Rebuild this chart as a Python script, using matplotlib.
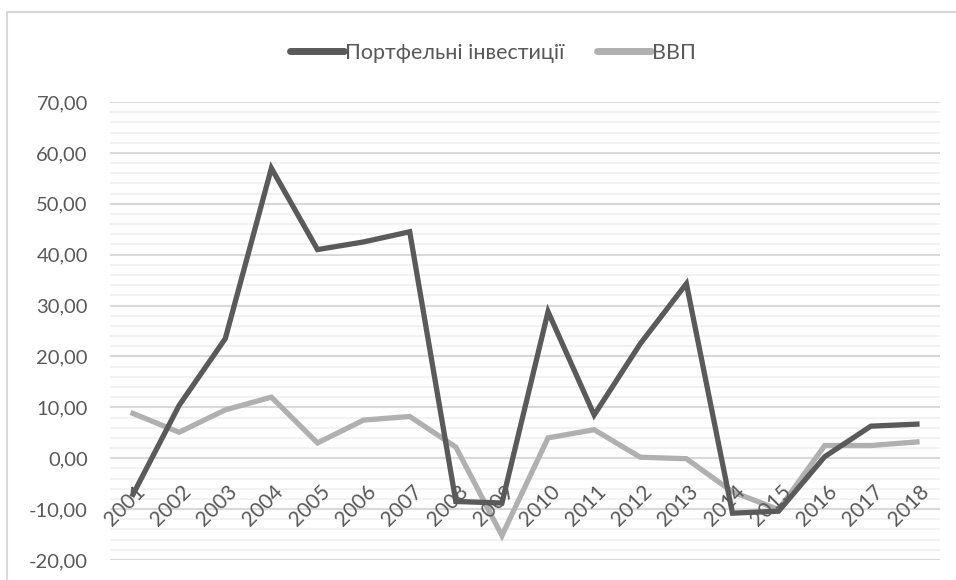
import matplotlib.pyplot as plt
from matplotlib.patches import Rectangle
from matplotlib.ticker import MultipleLocator, FuncFormatter

years = [str(y) for y in range(2001, 2019)]
portfolio = [-7.1, 10.4, 23.5, 57.0, 41.0, 42.5, 44.5, -8.5, -8.8, 28.8,
             8.5, 22.5, 34.3, -10.8, -10.4, 0.3, 6.3, 6.7]
gdp = [8.8, 5.1, 9.5, 12.0, 3.0, 7.5, 8.2, 2.2, -15.2, 4.0,
       5.6, 0.2, -0.1, -6.6, -10.1, 2.5, 2.5, 3.2]

DARK = '#5a5a5a'
LIGHT = '#b0b0b0'
TXT = '#595959'
plt.rcParams['font.family'] = ['Lato', 'DejaVu Sans']

fig = plt.figure(figsize=(9.56, 5.8), dpi=100)
fig.patches.append(Rectangle((7 / 956, -0.1), 1.2, (580 - 12) / 580 + 0.1,
                             transform=fig.transFigure, fill=False,
                             edgecolor='#d9d9d9', linewidth=1.5))

ax = fig.add_axes([110 / 956, 20 / 580, 830 / 956, 458 / 580])
x = list(range(len(years)))
ax.plot(x, portfolio, color=DARK, lw=3.8, solid_joinstyle='miter',
        label='Портфельні інвестиції', zorder=3)
ax.plot(x, gdp, color=LIGHT, lw=3.8, solid_joinstyle='miter',
        label='ВВП', zorder=2)

ax.set_xlim(-0.5, len(years) - 0.5)
ax.set_ylim(-20, 70)
ax.yaxis.set_major_locator(MultipleLocator(10))
ax.yaxis.set_minor_locator(MultipleLocator(2))
ax.yaxis.set_major_formatter(FuncFormatter(lambda v, p: '{:.2f}'.format(v).replace('.', ',')))
ax.grid(which='major', axis='y', color='#d9d9d9', lw=1.5, zorder=0)
ax.grid(which='minor', axis='y', color='#f2f2f2', lw=1.5, zorder=0)
ax.set_axisbelow(True)
for s in ax.spines.values():
    s.set_visible(False)
ax.tick_params(axis='y', which='both', length=0, labelsize=14.5, labelcolor=TXT, pad=16)
ax.set_xticks([])

for i, yr in enumerate(years):
    ax.annotate(yr, (i, 0), xytext=(1.5, -17), textcoords='offset points',
                rotation=45, ha='right', va='top', rotation_mode='anchor',
                fontsize=15, color=TXT, zorder=4)

leg = fig.legend(loc='center', bbox_to_anchor=(493 / 956, 1 - 53 / 580), ncol=2,
                 frameon=False, fontsize=15.5, handlelength=2.5, handletextpad=0.05,
                 columnspacing=1.5)
for t in leg.get_texts():
    t.set_color(TXT)
for h in leg.get_lines():
    h.set_linewidth(5)
    h.set_solid_capstyle('round')

fig.savefig('out.png', dpi=100)
